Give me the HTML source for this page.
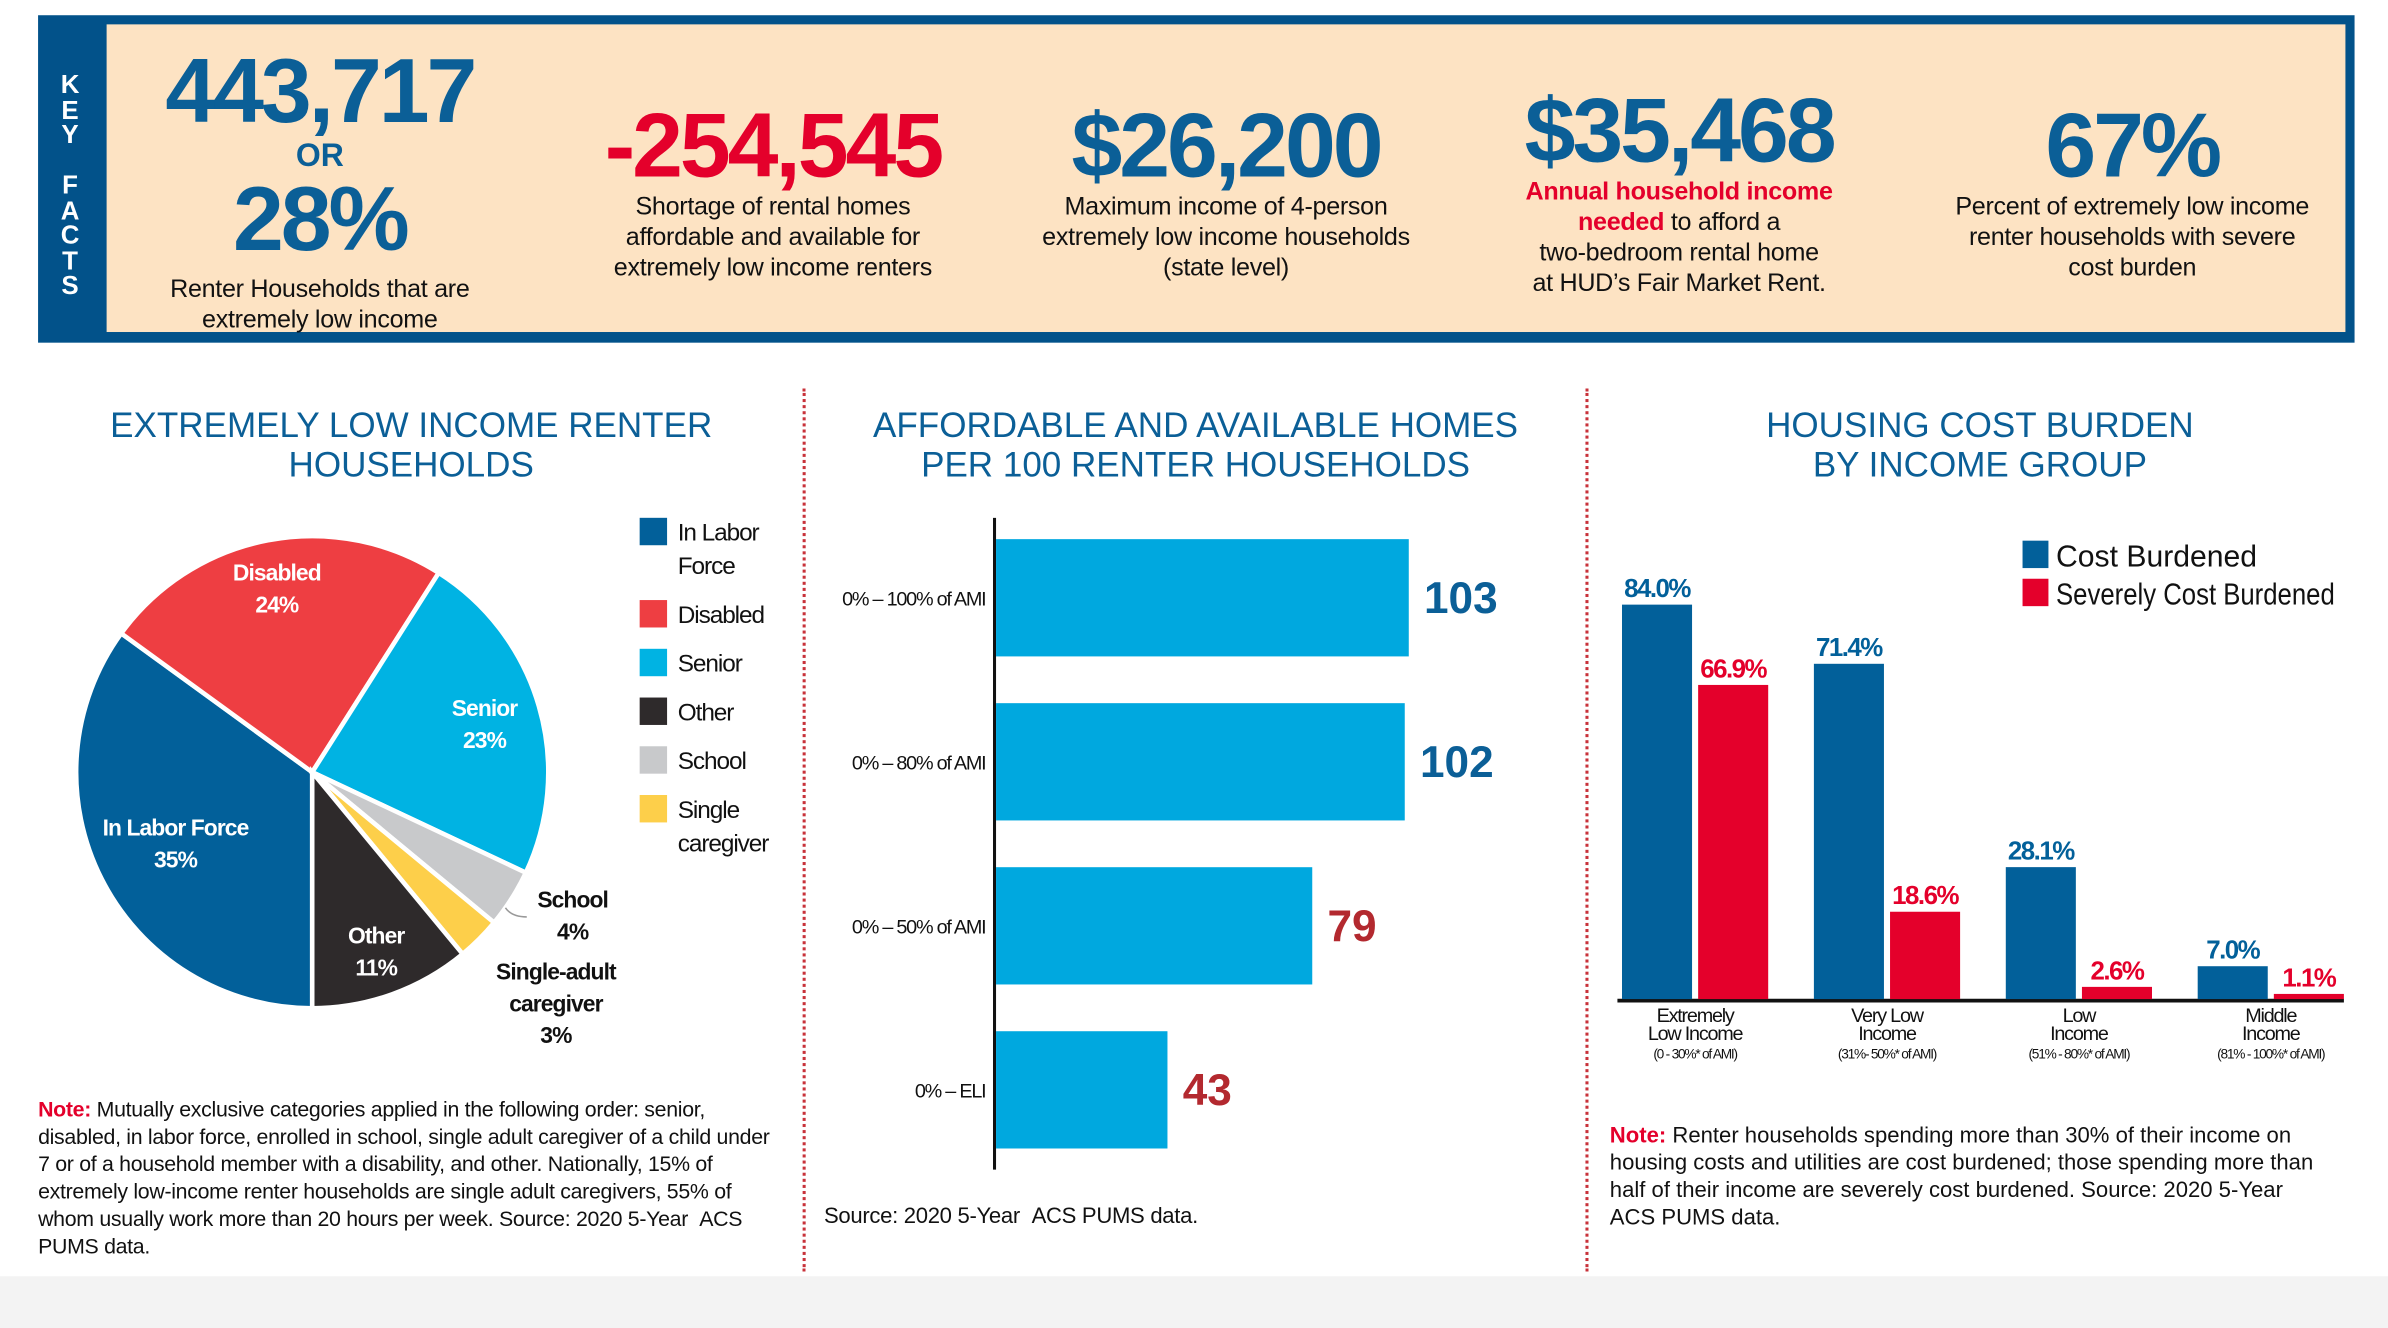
<!DOCTYPE html>
<html><head><meta charset="utf-8">
<style>
html,body{margin:0;padding:0;background:#fff;}
body{width:2388px;height:1328px;overflow:hidden;font-family:"Liberation Sans",sans-serif;}
#wrap{position:absolute;left:0;top:0;width:1568px;height:872px;transform:scale(1.523);transform-origin:0 0;background:#fff;}
.abs{position:absolute;}
.c{text-align:center;}
.big{font-weight:bold;font-size:60px;letter-spacing:-2px;line-height:1;}
.desc{font-size:16.5px;line-height:20px;color:#111;letter-spacing:-0.2px;}
.title{font-size:23px;color:#0b5f97;line-height:26px;text-align:center;}
.note{font-size:14.5px;line-height:18px;color:#111;letter-spacing:-0.2px;}
.blue{color:#0b5f97}.red{color:#e4002b}
</style></head><body>
<div id="wrap">
<div class="abs" style="left:25px;top:10px;width:1521px;height:215px;background:#02528a;"></div>
<div class="abs" style="left:70px;top:16px;width:1470px;height:202px;background:#fde3c3;"></div>
<div class="abs" style="left:36px;top:48px;width:20px;color:#fff;font-weight:bold;font-size:17px;line-height:16.5px;text-align:center;">K<br>E<br>Y<br><br>F<br>A<br>C<br>T<br>S</div>

<div class="abs c" style="left:85px;top:32px;width:250px;">
<div class="big blue" style="font-size:60px;line-height:56px;">443,717</div>
<div class="blue" style="font-weight:bold;font-size:21px;line-height:26px;margin-top:2px;">OR</div>
<div class="big blue" style="font-size:60px;line-height:56px;">28%</div>
<div class="desc" style="margin-top:8px;">Renter Households that are<br>extremely low income</div>
</div>
<div class="abs c" style="left:365px;top:66px;width:285px;">
<div class="big red">-254,545</div>
<div class="desc">Shortage of rental homes<br>affordable and available for<br>extremely low income renters</div>
</div>
<div class="abs c" style="left:660px;top:66px;width:290px;">
<div class="big blue">$26,200</div>
<div class="desc">Maximum income of 4-person<br>extremely low income households<br>(state level)</div>
</div>
<div class="abs c" style="left:960px;top:56px;width:285px;">
<div class="big blue">$35,468</div>
<div class="desc"><b class="red">Annual household income<br>needed</b> to afford a<br>two-bedroom rental home<br>at HUD’s Fair Market Rent.</div>
</div>
<div class="abs c" style="left:1260px;top:66px;width:280px;">
<div class="big blue">67%</div>
<div class="desc">Percent of extremely low income<br>renter households with severe<br>cost burden</div>
</div>

<div class="abs" style="left:527px;top:255px;height:580px;border-left:2px dotted #c8323a;"></div>
<div class="abs" style="left:1041px;top:255px;height:580px;border-left:2px dotted #c8323a;"></div>
<div class="abs" style="left:0;top:838px;width:1568px;height:34px;background:#f3f3f3;"></div>

<div class="abs title" style="left:40px;top:266px;width:460px;">EXTREMELY LOW INCOME RENTER<br>HOUSEHOLDS</div>
<div class="abs title" style="left:540px;top:266px;width:490px;">AFFORDABLE AND AVAILABLE HOMES<br>PER 100 RENTER HOUSEHOLDS</div>
<div class="abs title" style="left:1060px;top:266px;width:480px;">HOUSING COST BURDEN<br>BY INCOME GROUP</div>

<svg id="pie" class="abs" style="left:0;top:330px;" width="520" height="370"></svg>
<svg id="bars" class="abs" style="left:530px;top:330px;" width="510" height="450"></svg>
<svg id="burden" class="abs" style="left:1045px;top:340px;" width="520" height="370"></svg>

<div class="abs note" style="left:25px;top:719px;width:490px;font-size:14px;"><b class="red">Note:</b> Mutually exclusive categories applied in the following order: senior, disabled, in labor force, enrolled in school, single adult caregiver of a child under 7 or of a household member with a disability, and other. Nationally, 15% of extremely low-income renter households are single adult caregivers, 55% of whom usually work more than 20 hours per week. Source: 2020 5-Year &nbsp;ACS PUMS data.</div>
<div class="abs note" style="left:541px;top:790px;">Source: 2020 5-Year &nbsp;ACS PUMS data.</div>
<div class="abs note" style="left:1057px;top:737px;width:470px;letter-spacing:0;"><b class="red">Note:</b> Renter households spending more than 30% of their income on housing costs and utilities are cost burdened; those spending more than half of their income are severely cost burdened. Source: 2020 5-Year ACS PUMS data.</div>
</div>

<script>
const NS="http://www.w3.org/2000/svg";
function mk(p,t,a){const e=document.createElementNS(NS,t);for(const k in a)e.setAttribute(k,a[k]);p.appendChild(e);return e;}

// ---- Pie data ----
const pieCategories=["In Labor Force","Disabled","Senior","School","Single-adult caregiver","Other"];
const pieValues=[35,24,23,4,3,11];
const pieColors=["#02609a","#ee3e42","#00b3e3","#c8c9cb","#fdcf4a","#2e2a2b"];
const legendLabels=["In Labor|Force","Disabled","Senior","Other","School","Single|caregiver"];
const legendColors=["#02609a","#ee3e42","#00b3e3","#2e2a2b","#c8c9cb","#fdcf4a"];

// ---- Homes bar data ----
const homeCategories=["0% – 100% of AMI","0% – 80% of AMI","0% – 50% of AMI","0% – ELI"];
const homeValues=[103,102,79,43];

// ---- Burden data ----
const burdenGroups=[["Extremely","Low Income","(0 - 30%* of AMI)"],["Very Low","Income","(31%- 50%* of AMI)"],["Low","Income","(51% - 80%* of AMI)"],["Middle","Income","(81% - 100%* of AMI)"]];
const costBurdened=[84.0,71.4,28.1,7.0];
const severelyBurdened=[66.9,18.6,2.6,1.1];

(function(){
 const s=document.getElementById('pie');
 const cx=205,cy=177,r=155;
 const total=pieValues.reduce((a,b)=>a+b,0);
 let ang=180;
 const pt=(a,rr)=>[cx+rr*Math.sin(a*Math.PI/180),cy-rr*Math.cos(a*Math.PI/180)];
 const mids=[];
 pieValues.forEach((val,i)=>{
  const sweep=val/total*360;
  const a0=ang,a1=ang+sweep;
  const p0=pt(a0,r),p1=pt(a1,r);
  const path=mk(s,'path',{d:`M${cx},${cy}L${p0[0]},${p0[1]}A${r},${r} 0 ${sweep>180?1:0} 1 ${p1[0]},${p1[1]}Z`,fill:pieColors[i],stroke:'#fff','stroke-width':3});
  
  
  mids[i]=(a0+a1)/2;
  ang=a1;
 });
 function lab(x,y,lines,fill,name,size){
  const t=mk(s,'text',{x:x,y:y,'text-anchor':'middle',fill:fill,'font-weight':'bold','font-size':size||16,'font-family':'Liberation Sans, sans-serif','letter-spacing':'-0.6'});
  
  
  lines.forEach((l,k)=>{const ts=mk(t,'tspan',{x:x,dy:k?21:0});ts.textContent=l;});
 }
 [[0,0.65],[1,0.8],[2,0.76],[5,0.8]].forEach(([i,f])=>{
  const p=pt(mids[i],r*f);
  lab(p[0],p[1]-4,[pieCategories[i],pieValues[i]+'%'],'#fff','pie-label-'+i,15);
 });
 const ps=pt(mids[3],r);
 mk(s,'path',{d:`M${ps[0]-4},${ps[1]+6} Q${ps[0]},${ps[1]+12} ${ps[0]+10},${ps[1]+12}`,fill:'none',stroke:'#999','stroke-width':1});
 lab(376,266,[pieCategories[3],pieValues[3]+'%'],'#111','pie-label-school',15);
 lab(365,313,['Single-adult','caregiver',pieValues[4]+'%'],'#111','pie-label-single',15);
 legendLabels.forEach((l,k)=>{
  const yy=[10,64,96,128,160,192][k];
  const rc=mk(s,'rect',{x:420,y:yy,width:18,height:18,fill:legendColors[k]});
  
  
  const t=mk(s,'text',{x:445,y:yy+15,'font-size':16,fill:'#111','font-family':'Liberation Sans, sans-serif','letter-spacing':'-0.7'});
  
  
  l.split('|').forEach((p,j)=>{const ts=mk(t,'tspan',{x:445,dy:j?22:0});ts.textContent=p;});
 });
})();

(function(){
 const s=document.getElementById('bars');
 const x0=123, scale=(925-653)/103;
 const xf=v=>x0+v*scale;
 const top=24, step=107.7, bh=77;
 mk(s,'line',{x1:x0,y1:10,x2:x0,y2:438,stroke:'#111','stroke-width':2});
 homeValues.forEach((v,i)=>{
  const y=top+i*step;
  const b=mk(s,'rect',{x:x0+1,y:y,width:xf(v)-x0-1,height:bh,fill:'#00a8df'});
  
  
  const t=mk(s,'text',{x:x0-6,y:y+bh/2+5,'text-anchor':'end','font-size':13,fill:'#111','font-family':'Liberation Sans, sans-serif','letter-spacing':'-0.8'});
  t.textContent=homeCategories[i];
  
  
  const vl=mk(s,'text',{x:xf(v)+10,y:y+bh/2+10,'font-size':29,'font-weight':'bold',fill:v>=100?'#0b5f97':'#b3292f'});
  vl.textContent=v;
  
  
 });
})();

(function(){
 const s=document.getElementById('burden');
 const base=316, k=259/84, bw=46;
 const yf=v=>base-v*k;
 const gx=[20,146,272,398];
 mk(s,'line',{x1:17,y1:base+1,x2:494,y2:base+1,stroke:'#111','stroke-width':2.5});
 const lg=[["Cost Burdened","#02609a",132],["Severely Cost Burdened","#e4002b",183]];
 lg.forEach((l,i)=>{
  const r=mk(s,'rect',{x:283,y:15+i*25,width:17,height:18,fill:l[1]});
  
  
  const t=mk(s,'text',{x:305,y:32+i*25,'font-size':20,fill:'#111','font-family':'Liberation Sans, sans-serif',textLength:l[2],lengthAdjust:'spacingAndGlyphs'});
  t.textContent=l[0];
  
  
 });
 burdenGroups.forEach((g,i)=>{
  [[costBurdened[i],'#02609a',0],[severelyBurdened[i],'#e4002b',1]].forEach(([v,c,j])=>{
   const x=gx[i]+j*(bw+4);
   const r=mk(s,'rect',{x:x,y:yf(v),width:bw,height:base-yf(v),fill:c});
   
   
   const t=mk(s,'text',{x:x+bw/2,y:yf(v)-5,'text-anchor':'middle','font-size':17,'font-weight':'bold',fill:c,'font-family':'Liberation Sans, sans-serif','letter-spacing':'-1'});
   t.textContent=v.toFixed(1)+'%';
   
   
  });
  const cx=gx[i]+bw+2;
  const t=mk(s,'text',{x:cx,y:base+15,'text-anchor':'middle','font-size':13,fill:'#111','font-family':'Liberation Sans, sans-serif','letter-spacing':'-0.8'});
  
  
  g.forEach((p,j)=>{const ts=mk(t,'tspan',{x:cx,dy:j?12:0,'font-size':j==2?9:13});ts.textContent=p;});
 });
})();
</script>
</body></html>
